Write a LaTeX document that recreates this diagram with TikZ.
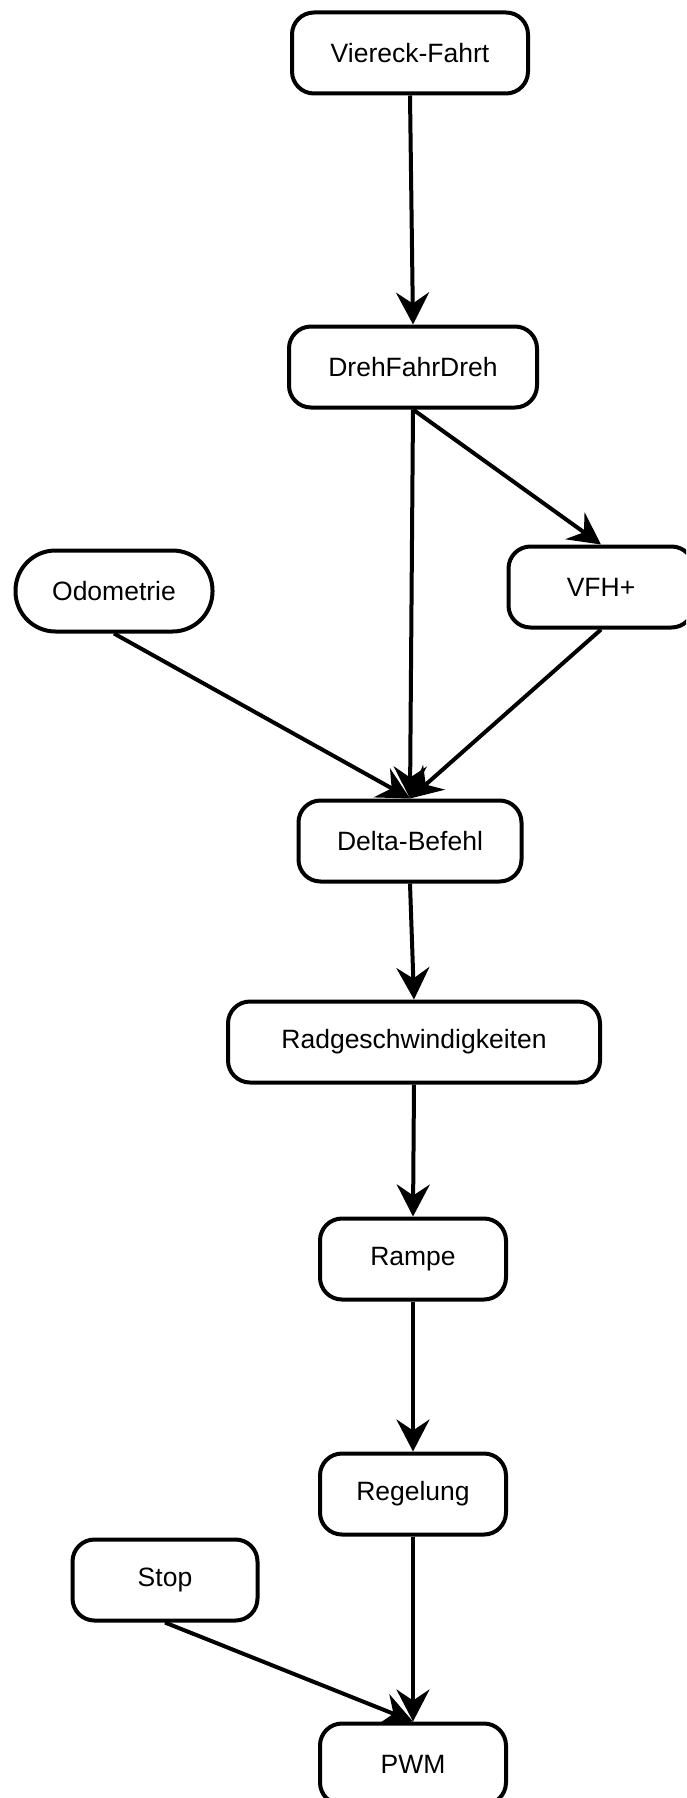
\documentclass[tikz,border=0pt]{standalone}
\usepackage{fontspec}
\setmainfont{Liberation Sans}
\usetikzlibrary{arrows.meta}
\begin{document}
\begin{tikzpicture}[x=1pt, y=-1pt, line width=4pt, line join=round, >={Stealth[length=32pt, width=33pt, inset=11pt]},
		font=\fontsize{26.5}{31}\selectfont,
		box/.style={draw, rounded corners=22pt, minimum height=81pt, inner sep=0pt},
		pill/.style={box, rounded corners=40pt}]
	\useasboundingbox (0,0) rectangle (686,1798);
	\clip (0,0) rectangle (686,1798);
	% Knoten
	\node[box, minimum width=236pt] (viereck) at (410,53) {Viereck-Fahrt};
	\node[box, minimum width=248pt] (dreh) at (413,367) {DrehFahrDreh};
	\node[pill, minimum width=197pt] (odo) at (114,591) {Odometrie};
	\node[box, minimum width=185pt] (vfh) at (601,587) {VFH+};
	\node[box, minimum width=223pt] (delta) at (410,841) {Delta-Befehl};
	\node[box, minimum width=372pt] (rad) at (414,1042) {Radgeschwindigkeiten};
	\node[box, minimum width=186pt] (rampe) at (413,1259) {Rampe};
	\node[box, minimum width=186pt] (regel) at (413,1494) {Regelung};
	\node[box, minimum width=185pt] (stop) at (165,1580) {Stop};
	\node[box, minimum width=186pt] (pwm) at (413,1764) {PWM};
	% Pfeile
	\draw[->] (viereck.south) -- (dreh.north);
	\draw[->] (dreh.south) -- (vfh.north);
	\draw[->] (dreh.south) -- (delta.north);
	\draw[->] (odo.south) -- (delta.north);
	\draw[->] (vfh.south) -- (delta.north);
	\draw[->] (delta.south) -- (rad.north);
	\draw[->] (rad.south) -- (rampe.north);
	\draw[->] (rampe.south) -- (regel.north);
	\draw[->] (regel.south) -- (pwm.north);
	\draw[->] (stop.south) -- (pwm.north);
\end{tikzpicture}
\end{document}
